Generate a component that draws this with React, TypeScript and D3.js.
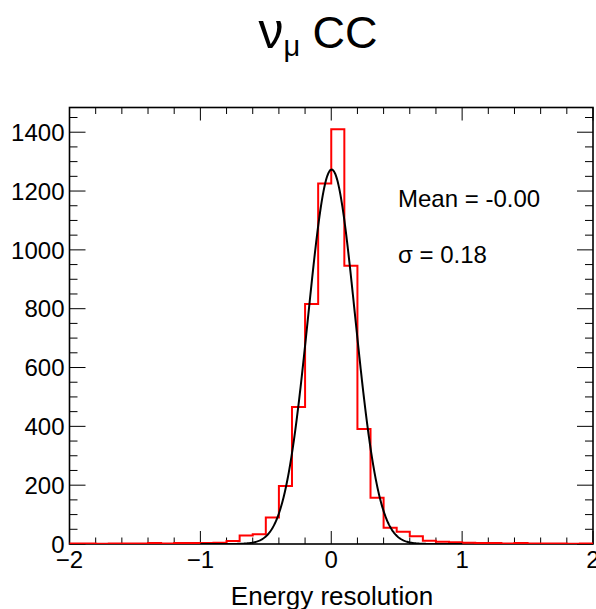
import React from "react";
import * as d3 from "d3";

// ---- data ----
const binStart = -2;
const binWidth = 0.1;
const binCounts = [
  2, 2, 1, 2, 2, 2, 3, 2, 3, 3, 3, 4,
  10, 29, 33, 90, 197, 466, 816, 1226,
  1410, 946, 391, 157, 55, 42, 26, 11, 8, 6,
  4, 3, 3, 2, 3, 2, 2, 2, 1, 2,
];
const xTickValues = [-2, -1, 0, 1, 2];
const xTickLabels = ["\u22122", "\u22121", "0", "1", "2"];
const yTickValues = [0, 200, 400, 600, 800, 1000, 1200, 1400];
const yTickLabels = ["0", "200", "400", "600", "800", "1000", "1200", "1400"];
const fitMean = 0.003;
const fitSigma = 0.18;
const fitAmp = 1273;
const fitRange = [-1, 1];
const statLines = ["Mean = -0.00", "\u03c3 = 0.18"];
const xTitle = "Energy resolution";

const W = 596;
const H = 609;
const FONT = "'Liberation Sans', Arial, Helvetica, sans-serif";

export default function App() {
  const left = 69.5, right = 593, top = 107.5, bottom = 544;
  const x = d3.scaleLinear().domain([-2, 2]).range([left, right]);
  const y = d3.scaleLinear().domain([0, 1484]).range([bottom, top]);

  // histogram outline
  const pts: [number, number][] = [[x(binStart), y(0)]];
  binCounts.forEach((c, i) => {
    const x0 = binStart + i * binWidth;
    pts.push([x(x0), y(c)]);
    pts.push([x(x0 + binWidth), y(c)]);
  });
  pts.push([x(binStart + binCounts.length * binWidth), y(0)]);
  const line = d3.line<[number, number]>();
  const histPath = line(pts) || "";

  const fitPts: [number, number][] = d3
    .range(0, 401)
    .map((i) => fitRange[0] + ((fitRange[1] - fitRange[0]) * i) / 400)
    .map((v) => [x(v), y(fitAmp * Math.exp(-0.5 * ((v - fitMean) / fitSigma) ** 2))]);
  const fitPath = d3.line<[number, number]>().curve(d3.curveLinear)(fitPts) || "";

  const xMinor = d3.range(-2, 2.0001, 0.2).map((v) => Math.round(v * 10) / 10);
  const yMinor = d3.range(0, 1484, 50);

  const xMajLen = 13, xMinLen = 6.5, yMajLen = 16, yMinLen = 8;

  return (
    <svg
      width={W}
      height={H}
      style={{ position: "absolute", left: 0, top: 0, background: "#fff" }}
      fontFamily={FONT}
    >
      <rect x={0} y={0} width={W} height={H} fill="#fff" />
      {/* title */}
      <text x={318} y={48} textAnchor="middle" fontSize={45} fill="#000">
        <tspan fontSize={50}>ν</tspan>
        <tspan fontSize={29} dy={8}>μ</tspan>
        <tspan dy={-8}> CC</tspan>
      </text>

      <defs>
        <clipPath id="frameclip">
          <rect x={left} y={top - 2} width={right - left} height={bottom - top + 2} />
        </clipPath>
      </defs>

      {/* ticks */}
      <g stroke="#000" strokeWidth={1}>
        {xMinor.map((v, i) => {
          const major = Math.abs(v - Math.round(v)) < 1e-6;
          const len = major ? xMajLen : xMinLen;
          return (
            <g key={"xt" + i}>
              <line x1={x(v)} x2={x(v)} y1={bottom} y2={bottom - len} />
              <line x1={x(v)} x2={x(v)} y1={top} y2={top + len} />
            </g>
          );
        })}
        {yMinor.map((v, i) => {
          const major = v % 200 === 0;
          const len = major ? yMajLen : yMinLen;
          return (
            <g key={"yt" + i}>
              <line x1={left} x2={left + len} y1={y(v)} y2={y(v)} />
              <line x1={right} x2={right - len} y1={y(v)} y2={y(v)} />
            </g>
          );
        })}
      </g>

      {/* frame */}
      <rect
        x={left}
        y={top}
        width={right - left}
        height={bottom - top}
        fill="none"
        stroke="#000"
        strokeWidth={1.6}
      />

      {/* histogram */}
      <g clipPath="url(#frameclip)">
        <path d={histPath} fill="none" stroke="#ff0000" strokeWidth={2} />
        <path d={fitPath} fill="none" stroke="#000" strokeWidth={2} />
      </g>

      {/* y labels */}
      {yTickValues.map((v, i) => (
        <text
          key={"yl" + i}
          x={left - 5}
          y={y(v)}
          dy="0.36em"
          textAnchor="end"
          fontSize={24}
          fill="#000"
        >
          {yTickLabels[i]}
        </text>
      ))}
      {/* x labels */}
      {xTickValues.map((v, i) => (
        <text
          key={"xl" + i}
          x={x(v)}
          y={568}
          textAnchor="middle"
          fontSize={24}
          fill="#000"
        >
          {xTickLabels[i]}
        </text>
      ))}

      <text x={332} y={605} textAnchor="middle" fontSize={26} fill="#000">
        {xTitle}
      </text>

      {statLines.map((s, i) => (
        <text key={"st" + i} x={398} y={207 + i * 56} fontSize={24} fill="#000">
          {s}
        </text>
      ))}
    </svg>
  );
}
